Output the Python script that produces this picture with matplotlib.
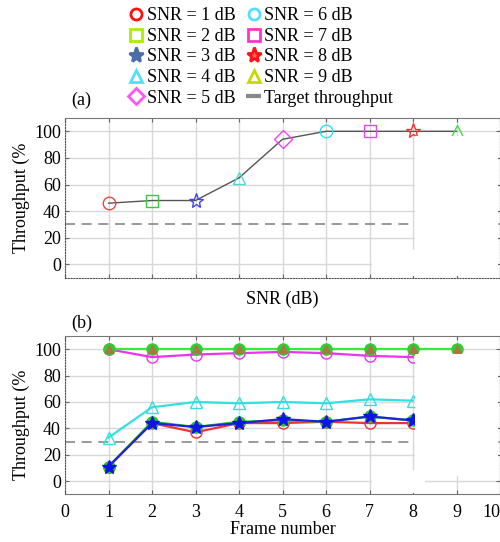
import matplotlib
matplotlib.use('Agg')
import matplotlib.pyplot as plt
from matplotlib.lines import Line2D
from matplotlib.patches import Rectangle
import numpy as np

plt.rcParams['font.family'] = 'Liberation Serif'
plt.rcParams['font.size'] = 13

#-------data-------
snr = [1, 2, 3, 4, 5, 6, 7, 8, 9]
thr_snr = [46, 48, 48, 65, 94, 100, 100, 100, 100]
target = 30

frames = [1, 2, 3, 4, 5, 6, 7, 8]
frames_full = [1, 2, 3, 4, 5, 6, 7, 8, 9]
thr_1 = [11, 44, 37, 44, 44, 45, 44, 44]
thr_2 = [11, 45, 41, 45, 46, 45, 49, 46]
thr_3 = [11, 44, 41, 44, 47, 45, 49, 46]
thr_4 = [33, 56, 60, 59, 60, 59, 62, 61]
thr_5 = [100, 94, 96, 97, 98, 97, 95, 94]
thr_hi = [100, 100, 100, 100, 100, 100, 100, 100, 100]

# marker / colour per SNR in panel (a)
mk_a = ['o', 's', '*', '^', 'D', 'o', 's', '*', '^']
col_a = ['#ee4444', '#33cc33', '#4444ee', '#44dddd', '#ee44ee',
         '#33ddee', '#ee44ee', '#ee3333', '#44dd44']
# legend styles
mk_leg = ['o', 's', '*', '^', 'D', 'o', 's', '*', '^']
col_leg = ['#ff1111', '#aaee00', '#4a6fa5', '#55ddff', '#ff55ff',
           '#55ddff', '#ff33cc', '#ff1111', '#c8d800']
fill_leg = ['none', 'none', '#4a6fa5', 'none', 'none',
            'none', 'none', '#ff6666', 'none']

fig = plt.figure(figsize=(5, 5.42), dpi=100)
ax1 = fig.add_axes([0.13, 0.4876, 0.87, 0.2947])
ax2 = fig.add_axes([0.13, 0.088, 0.87, 0.292])

def style(ax):
    ax.set_xlim(0, 10)
    ax.set_ylim(-10, 110)
    ax.set_xticks(range(0, 11))
    ax.set_yticks([0, 20, 40, 60, 80, 100])
    ax.grid(True, color='#d8d8d8', lw=1)
    ax.set_axisbelow(True)
    ax.tick_params(direction='in', length=3, color='#666666', labelsize=13,
                   top=True, right=True, pad=3)
    for s in ['left', 'bottom', 'right']:
        ax.spines[s].set_linestyle((0, (1, 1.5)))
        ax.spines[s].set_color('#555555')
    ax.spines['top'].set_color('#777777')
    ax.axhline(target, color='#888888', ls=(0, (6, 4)), lw=1.2)

#-------(a) throughput vs SNR-------
style(ax1)
ax1.plot(snr, thr_snr, color='#555555', lw=1)
for i in range(len(snr)):
    ax1.plot(snr[i], thr_snr[i], marker=mk_a[i], ms=9 if mk_a[i] != '*' else 11,
             mfc='none', mec=col_a[i], mew=1)
ax1.set_xticklabels([])
ax1.set_xlabel('SNR (dB)', fontsize=13, labelpad=6)
ax1.text(0.15, 120, '(a)', fontsize=13)

#-------(b) throughput vs frame number-------
style(ax2)
ax2.spines['bottom'].set_linestyle('-')
ax2.spines['bottom'].set_color('#777777')
ax2.tick_params(axis='x', pad=7)
ax2.plot(frames, thr_1, color='#ee3333', lw=1.6, marker='o', ms=8,
         mfc='none', mec='#ee3333')
ax2.plot(frames, thr_2, color='#22cc22', lw=1.6, marker='o', ms=8,
         mfc='#22cc22', mec='#22cc22')
ax2.plot(frames, thr_3, color='#2222dd', lw=1.6, marker='*', ms=10,
         mfc='#1111ee', mec='#1111ee')
ax2.plot(frames, thr_4, color='#33e0e0', lw=1.6, marker='^', ms=9,
         mfc='none', mec='#33e0e0')
ax2.plot(frames, thr_5, color='#ee33ee', lw=1.6, marker='o', ms=8,
         mfc='none', mec='#ee33ee')
ax2.plot(frames_full, thr_hi, color='#33ee33', lw=1.6, marker='o', ms=8,
         mfc='#33cc33', mec='#33cc33')
ax2.plot(frames_full, thr_hi, ls='none', marker='^', ms=6,
         mfc='#aa7744', mec='#aa7744')
ax2.set_xlabel('Frame number', fontsize=13, labelpad=0)
ax2.text(0.15, 116, '(b)', fontsize=13)
# keep the last tick label inside the figure
ax2.get_xticklabels()[-1].set_horizontalalignment('right')

for y0 in [197.5, 425]:
    fig.text(21 / 500, 1 - y0 / 542, 'Throughput (%', rotation=90,
             ha='center', va='center', fontsize=13)

#-------legend-------
handles = []
labels = []
for i in range(9):
    handles.append(Line2D([], [], ls='none', marker=mk_leg[i],
                          ms=11 if mk_leg[i] == '*' else 8,
                          mfc=fill_leg[i], mec=col_leg[i], mew=2))
    labels.append('SNR = %d dB' % snr[i])
handles.append(Line2D([], [], color='#888888', ls=(0, (4, 2)), lw=3))
labels.append('Target throughput')
fig.legend(handles, labels, ncol=2, loc='upper left',
           bbox_to_anchor=(0.232, 1.01), frameon=False, fontsize=13,
           handlelength=0.8, handletextpad=0.2, columnspacing=0.6,
           labelspacing=0.2, borderpad=0.2)

#-------white patches-------
def blank(x0, y0, x1, y1):
    fig.patches.append(Rectangle((x0 / 500, 1 - y1 / 542), (x1 - x0) / 500,
                                 (y1 - y0) / 542, transform=fig.transFigure,
                                 facecolor='white', edgecolor='none', zorder=5))

blank(415, 136, 498, 276)
blank(372, 250, 415, 276)
blank(415, 354, 498, 476)
blank(372, 470, 425, 493)

plt.savefig('out.png', dpi=100)
